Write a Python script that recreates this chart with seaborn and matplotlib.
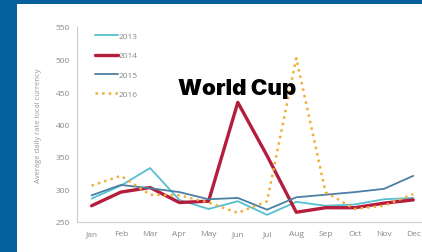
import pandas as pd
import seaborn as sns
import matplotlib.pyplot as plt
from matplotlib.patches import Rectangle

months = ['Jan', 'Feb', 'Mar', 'Apr', 'May', 'Jun', 'Jul', 'Aug', 'Sep', 'Oct', 'Nov', 'Dec']
rate_2013 = [286, 306, 333, 284, 270, 282, 261, 281, 275, 277, 285, 287]
rate_2014 = [275, 296, 303, 280, 282, 434, 352, 265, 272, 272, 279, 284]
rate_2015 = [291, 307, 302, 296, 285, 287, 269, 288, 292, 296, 301, 321]
rate_2016 = [306, 321, 292, 291, 280, 264, 282, 502, 296, 270, 275, 293]

sns.set_style('white')
plt.rcParams['font.family'] = ['Open Sans', 'DejaVu Sans']

fig = plt.figure(figsize=(4.22, 2.53), dpi=100)
fig.patch.set_facecolor('#06609c')
fig.patches.append(Rectangle((17 / 422, 0), 1, 248 / 253, transform=fig.transFigure,
                             facecolor='white', edgecolor='none', zorder=-10))

ax = fig.add_axes([77 / 422, 30 / 253, 345 / 422, 195 / 253])
ax.set_facecolor('none')

x = list(range(len(months)))
series = [
    ('2013', rate_2013, '#56bfd0', 1.3, '-'),
    ('2014', rate_2014, '#b41e3c', 2.4, '-'),
    ('2015', rate_2015, '#4b7fa3', 1.3, '-'),
    ('2016', rate_2016, '#f2ae3a', 1.8, ':'),
]
for name, vals, col, lw, ls in series:
    sns.lineplot(x=x, y=vals, ax=ax, color=col, linewidth=lw, linestyle=ls, label=name)

ax.set_xlim(-0.5, 11.3)
ax.set_ylim(250, 550)
ax.set_yticks(range(250, 551, 50))
ax.set_xticks(x)
ax.set_xticklabels(months)
ax.set_xticks([i + 0.5 for i in range(11)], minor=True)
ax.tick_params(axis='x', which='major', length=0, labelsize=6, colors='#888888', pad=6)
ax.tick_params(axis='x', which='minor', length=3, color='#cccccc', direction='out')
ax.tick_params(axis='y', length=3, color='#cccccc', labelsize=6, colors='#888888', pad=2)
for s in ['top', 'right']:
    ax.spines[s].set_visible(False)
for s in ['left', 'bottom']:
    ax.spines[s].set_color('#cccccc')
    ax.spines[s].set_linewidth(0.8)

ax.set_ylabel('Average daily rate local currency', fontsize=5.5, color='#999999', labelpad=10)

leg = ax.legend(loc='upper left', bbox_to_anchor=(0.03, 1.01), frameon=False, fontsize=6,
                handlelength=2.8, handletextpad=0.1, labelspacing=1.35, labelcolor='#888888')

fig.text(178 / 422, 1 - 89 / 253, 'World Cup', fontsize=16, fontweight='black',
         family=['Inter', 'DejaVu Sans'], color='black', va='center', ha='left')

fig.savefig('out.png', dpi=100, facecolor=fig.get_facecolor())
